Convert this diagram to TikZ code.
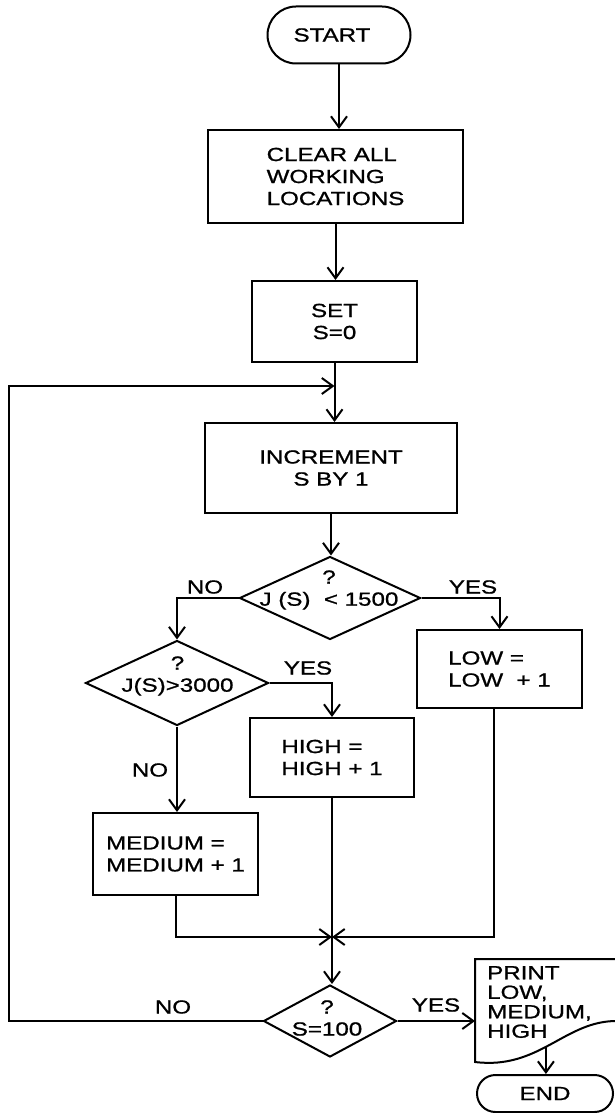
\documentclass[tikz,border=0pt]{standalone}
\usepackage{fontspec}
\newfontfamily\chartfont[FakeStretch=1.27,FakeBold=1]{Liberation Sans}
\usetikzlibrary{arrows.meta,shapes.geometric,shapes.misc}

\begin{document}
\begin{tikzpicture}[x=1pt,y=-1pt,
  every node/.style={font=\chartfont\fontsize{19}{22}\selectfont, inner sep=0pt},
  line/.style={line width=2pt},
  arr/.style={line, -{Straight Barb[length=11pt,width=16pt]}},
  proc/.style={draw, line width=2pt, rectangle, align=left},
  procc/.style={proc, align=center},
  term/.style={draw, line width=2pt, rounded rectangle},
  decision/.style={draw, line width=2pt, diamond},
  qtext/.style={align=center}
]
\useasboundingbox (0,0) rectangle (615,1113);

% main column
\node[term, minimum width=143, minimum height=57] (start) at (339,35) {START\hspace*{14pt}};
\node[proc, minimum width=255, minimum height=93] (clear) at (335.5,176.5) {CLEAR ALL\\WORKING\\LOCATIONS};
\node[procc, minimum width=165, minimum height=81] (set) at (334.5,321.5) {SET\\S=0};
\node[procc, minimum width=252, minimum height=90] (incr) at (331,468) {INCREMENT\\S BY 1};

% first test
\node[decision, minimum width=181, minimum height=83] (d1) at (330,598) {};
\node[qtext] (d1q) at (329,590) {?\\J (S)\ \ < 1500};

% second test
\node[decision, minimum width=183, minimum height=85] (d2) at (177,683) {};
\node[qtext] (d2q) at (177.5,676) {?\\J(S)>3000};

% counters
\node[proc, minimum width=165, minimum height=78] (low) at (499.5,669) {LOW =\\LOW\ \ + 1};
\node[proc, minimum width=164, minimum height=79] (high) at (332,757.5) {HIGH =\\HIGH + 1};
\node[proc, minimum width=165, minimum height=82] (medium) at (175.5,854) {MEDIUM =\\MEDIUM + 1};

% final test
\node[decision, minimum width=133, minimum height=72] (d3) at (330,1021) {};
\node[qtext] (d3q) at (327,1018) {?\\S=100};

% print document and end
\node[align=left, anchor=north west, font=\chartfont\fontsize{19}{19.5}\selectfont] (print) at (487,966) {PRINT\\LOW,\\MEDIUM,\\HIGH};
\draw[line] (618,959) -- (475,959) -- (475,1062)
  .. controls (540,1070) and (565,1020) .. coordinate[pos=0.46] (docout) (618,1021);
\coordinate (docin) at (475,1020);
\node[term, minimum width=136, minimum height=37] (end) at (545,1093.5) {END};

% branch labels
\node (no1) at (205,587) {NO};
\node (yes1) at (473,587) {YES};
\node (yes2) at (308,668) {YES};
\node (no2) at (150,770) {NO};
\node (no3) at (173,1007) {NO};
\node (yes3) at (436,1005) {YES};

% junctions
\coordinate (loopin) at (set.south |- 0,386);
\coordinate (merge) at (high.south |- 0,937);
\coordinate (loopx) at (9,0);

% connectors
\draw[arr] (start.south) -- (start.south |- clear.north);
\draw[arr] (clear.south) -- (clear.south |- set.north);
\draw[arr] (set.south) -- (set.south |- incr.north);
\draw[arr] (incr.south) -- (incr.south |- d1.north);
\draw[arr] (d1.west) -| (d2.north);
\draw[arr] (d1.east) -| (low.north);
\draw[arr] (d2.east) -| (high.north);
\draw[arr] (d2.south) -- (d2.south |- medium.north);
\draw[arr] (medium.south) |- (merge);
\draw[arr] ([xshift=-6pt]low.south) |- (merge);
\draw[arr] (high.south) -- (high.south |- d3.north);
\draw[arr] (d3.west) -- (d3.west -| loopx) |- (loopin);
\draw[arr] (d3.east) -- (d3.east -| docin);
\draw[arr] (docout) -- (docout |- end.north);
\end{tikzpicture}
\end{document}
